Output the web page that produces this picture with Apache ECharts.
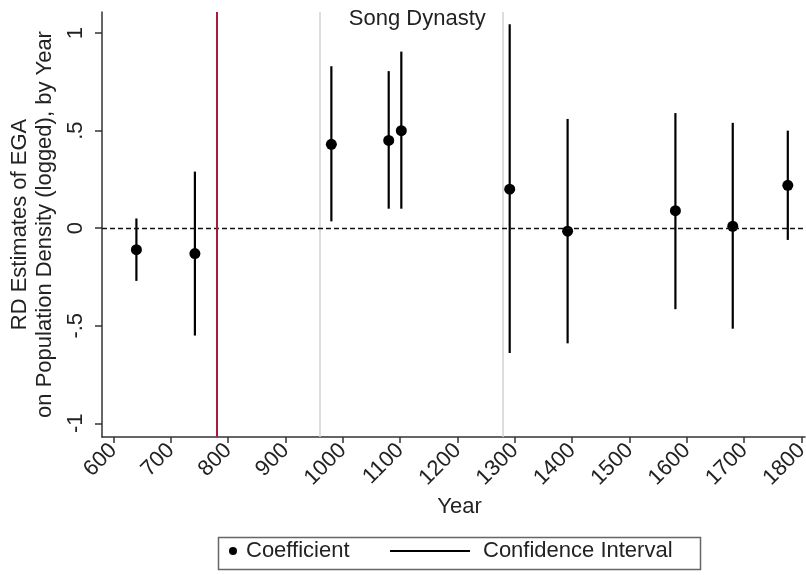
<!DOCTYPE html>
<html>
<head>
<meta charset="utf-8">
<script src="https://cdn.jsdelivr.net/npm/echarts@6/dist/echarts.min.js"></script>
<style>
html,body{margin:0;padding:0;background:#fff;}
#chart{width:806px;height:575px;}
</style>
</head>
<body>
<div id="chart"></div>
<script>
// ---- data ----
var years = [640, 742, 980, 1080, 1102, 1291, 1392, 1580, 1680, 1776];
var coef  = [-0.11, -0.13, 0.43, 0.45, 0.50, 0.20, -0.015, 0.09, 0.01, 0.22];
var lower = [-0.27, -0.55, 0.035, 0.10, 0.10, -0.64, -0.59, -0.415, -0.515, -0.06];
var upper = [0.05, 0.29, 0.83, 0.805, 0.905, 1.045, 0.56, 0.59, 0.54, 0.50];
var xTicks = [600, 700, 800, 900, 1000, 1100, 1200, 1300, 1400, 1500, 1600, 1700, 1800];
var yTicks = [-1, -0.5, 0, 0.5, 1];
var redLineYear = 780;
var songStart = 960;
var songEnd = 1279;
var songLabel = 'Song Dynasty';
var xTitle = 'Year';
var yTitle = 'RD Estimates of EGA\non Population Density (logged), by Year';
var legendCoef = 'Coefficient';
var legendCI = 'Confidence Interval';

var FONT = '"Liberation Sans", Arial, Helvetica, sans-serif';
var TXT = '#222';

function stataNum(v) {
  if (v === 0) return '0';
  var s = String(Math.abs(v)).replace(/^0\./, '.');
  return (v < 0 ? '-' : '') + s;
}

var pointData = years.map(function (y, i) { return [y, coef[i]]; });
var ciData = years.map(function (y, i) { return [y, lower[i], upper[i]]; });

var chart = echarts.init(document.getElementById('chart'), null, { renderer: 'canvas' });

var option = {
  animation: false,
  backgroundColor: '#fff',
  textStyle: { fontFamily: FONT },
  grid: { left: 102, right: 1, top: 12, bottom: 138, containLabel: false, outerBoundsMode: 'none' },
  xAxis: {
    type: 'value',
    min: 580, max: 1806,
    name: xTitle,
    nameLocation: 'middle',
    nameGap: 59,
    nameTextStyle: { fontSize: 22, color: TXT, fontFamily: FONT, padding: [0, 0, 0, 12] },
    axisLine: { show: true, onZero: false, lineStyle: { color: '#333', width: 1.5 } },
    axisTick: { show: true, length: 6, customValues: xTicks, lineStyle: { color: '#333', width: 1.5 } },
    axisLabel: { rotate: 45, margin: 10, fontSize: 22, color: TXT, fontFamily: FONT, customValues: xTicks,
      formatter: function (v) { return String(v); } },
    splitLine: { show: false }
  },
  yAxis: {
    type: 'value',
    min: -1.07, max: 1.108,
    name: yTitle,
    nameLocation: 'middle',
    nameGap: 37,
    nameRotate: 90,
    nameTextStyle: { fontSize: 22, lineHeight: 25, color: TXT, fontFamily: FONT, align: 'center' },
    axisLine: { show: true, onZero: false, lineStyle: { color: '#333', width: 1.5 } },
    axisTick: { show: true, length: 7, customValues: yTicks, lineStyle: { color: '#333', width: 1.5 } },
    axisLabel: { rotate: 90, margin: 15, fontSize: 22, color: TXT, fontFamily: FONT, customValues: yTicks, formatter: stataNum },
    splitLine: { show: false }
  },
  legend: [
    {
      data: [{ name: legendCoef, icon: 'circle' }],
      left: 229, top: 539, padding: 0,
      itemWidth: 8, itemHeight: 8,
      itemStyle: { opacity: 1 },
      textStyle: { fontSize: 22, lineHeight: 24, color: TXT, fontFamily: FONT, padding: [0, 0, 0, 4] },
      selectedMode: false
    },
    {
      data: [{ name: legendCI, icon: 'rect' }],
      left: 390, top: 539, padding: 0,
      itemWidth: 80, itemHeight: 2,
      textStyle: { fontSize: 22, lineHeight: 24, color: TXT, fontFamily: FONT, padding: [0, 0, 0, 8] },
      selectedMode: false
    }
  ],
  graphic: [
    {
      type: 'rect', left: 216, top: 535, silent: true,
      shape: { width: 482, height: 32 },
      style: { fill: 'none', stroke: '#666', lineWidth: 1.5 }
    }
  ],
  series: [
    {
      name: 'refs',
      type: 'line',
      data: [],
      silent: true,
      markLine: {
        silent: true,
        symbol: 'none',
        animation: false,
        label: { show: false },
        data: [
          { xAxis: songStart, lineStyle: { color: '#d2d2d2', width: 1.5, type: 'solid' } },
          { xAxis: songEnd, lineStyle: { color: '#d2d2d2', width: 1.5, type: 'solid' } },
          { yAxis: 0, lineStyle: { color: '#111', width: 1.3, type: [5, 3] } },
          { xAxis: redLineYear, lineStyle: { color: '#a51c40', width: 2, type: 'solid' } }
        ]
      },
      markArea: {
        silent: true,
        itemStyle: { color: 'rgba(0,0,0,0)' },
        label: {
          show: true, position: 'insideTop', distance: 0, offset: [6, -4],
          fontSize: 22, color: TXT, fontFamily: FONT
        },
        data: [[{ name: songLabel, xAxis: songStart }, { xAxis: songEnd }]]
      },
      z: 1
    },
    {
      name: legendCI,
      type: 'custom',
      data: ciData,
      encode: { x: 0, y: [1, 2] },
      itemStyle: { color: '#000' },
      renderItem: function (params, api) {
        var p1 = api.coord([api.value(0), api.value(1)]);
        var p2 = api.coord([api.value(0), api.value(2)]);
        return {
          type: 'line',
          shape: { x1: p1[0], y1: p1[1], x2: p2[0], y2: p2[1] },
          style: { stroke: '#000', lineWidth: 2.2 }
        };
      },
      z: 3
    },
    {
      name: legendCoef,
      type: 'scatter',
      data: pointData,
      symbol: 'circle',
      symbolSize: 11,
      itemStyle: { color: '#000', opacity: 1 },
      z: 4
    }
  ]
};
chart.setOption(option);
</script>
</body>
</html>
